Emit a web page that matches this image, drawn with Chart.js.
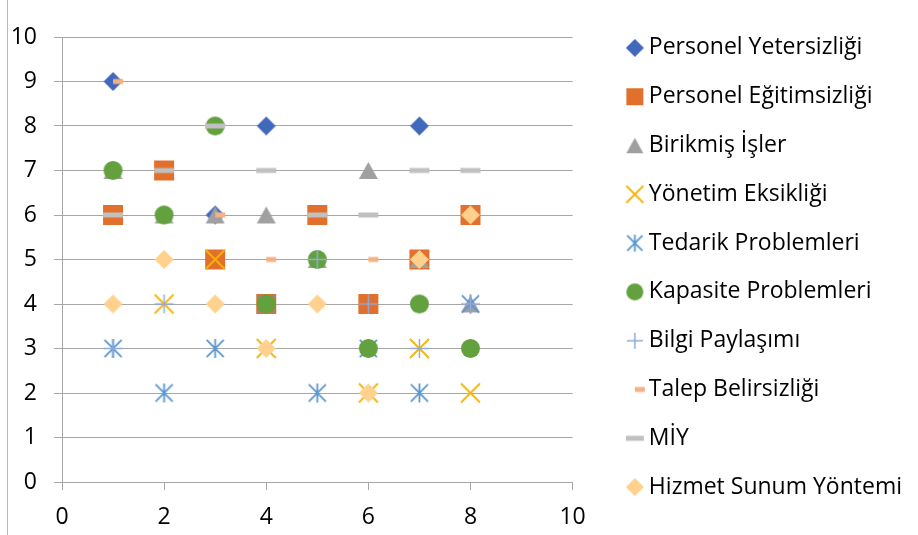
<!DOCTYPE html>
<html>
<head>
<meta charset="utf-8">
<script src="https://cdn.jsdelivr.net/npm/chart.js@4/dist/chart.umd.min.js"></script>
<style>
  html, body { margin: 0; padding: 0; background: #fff; }
  #wrap { position: relative; width: 918px; height: 535px; }
  #wrap canvas { position: absolute; left: 0; top: 0; }
  #edge { position: absolute; left: 7px; top: 0; width: 1px; height: 535px; background: #b8b8b8; }
</style>
</head>
<body>
<div id="wrap">
  <canvas id="graph" width="918" height="535"></canvas>
  <div id="edge"></div>
</div>
<script>
// series names, in legend order
const seriesNames = ['Personel Yetersizliği', 'Personel Eğitimsizliği', 'Birikmiş İşler', 'Yönetim Eksikliği',
  'Tedarik Problemleri', 'Kapasite Problemleri', 'Bilgi Paylaşımı', 'Talep Belirsizliği', 'MİY', 'Hizmet Sunum Yöntemi'];

// [x, y] pairs
const personelYetersizligi = [[1, 9], [3, 6], [4, 8], [7, 8]];
const personelEgitimsizligi = [[1, 6], [2, 7], [3, 5], [4, 4], [5, 6], [6, 4], [7, 5], [8, 6]];
const birikmisIsler = [[1, 7], [2, 6], [3, 6], [4, 6], [5, 5], [6, 7], [7, 5], [8, 4]];
const yonetimEksikligi = [[2, 4], [3, 5], [4, 3], [6, 2], [7, 3], [8, 2]];
const tedarikProblemleri = [[1, 3], [2, 2], [3, 3], [4, 4], [5, 2], [6, 3], [7, 2], [8, 4]];
const kapasiteProblemleri = [[1, 7], [2, 6], [3, 8], [4, 4], [5, 5], [6, 3], [7, 4], [8, 3]];
const bilgiPaylasimi = [[1, 3], [2, 4], [5, 5], [6, 4], [7, 3], [8, 4]];
const talepBelirsizligi = [[1, 9], [3, 6], [4, 5], [6, 5]];
const miy = [[1, 6], [2, 7], [3, 8], [4, 7], [5, 6], [6, 6], [7, 7], [8, 7]];
const hizmetSunumYontemi = [[1, 4], [2, 5], [3, 4], [4, 3], [5, 4], [6, 2], [7, 5], [8, 6]];

const seriesData = [personelYetersizligi, personelEgitimsizligi, birikmisIsler, yonetimEksikligi, tedarikProblemleri,
  kapasiteProblemleri, bilgiPaylasimi, talepBelirsizligi, miy, hizmetSunumYontemi];

const colors = ['#4169BB', '#E0702C', '#A0A0A0', '#F5B400', '#5B96D0', '#63A03E', '#8FAADC', '#F4B183', '#C0C0C0', '#FFD18C'];
const kinds = ['diamond', 'square', 'triangle', 'x', 'star', 'circle', 'plus', 'halfdash', 'line', 'diamond'];
const plotSizes = [19, 20, 19, 19, 19, 19, 19, 20, 20, 19];
const legendSizes = [18, 17, 17, 17, 17, 17, 16, 20, 18, 18];

// excel-like marker drawn on a small canvas
function mark(kind, size, color) {
  const c = document.createElement('canvas');
  c.width = size + 4;
  c.height = size + 4;
  const g = c.getContext('2d');
  const m = c.width / 2, h = size / 2;
  g.fillStyle = color;
  g.strokeStyle = color;
  g.beginPath();
  switch (kind) {
    case 'diamond':
      g.moveTo(m, m - h); g.lineTo(m + h, m); g.lineTo(m, m + h); g.lineTo(m - h, m);
      g.closePath(); g.fill();
      break;
    case 'square':
      g.fillRect(m - h, m - h, size, size);
      break;
    case 'triangle':
      g.moveTo(m, m - h * 0.9); g.lineTo(m + h, m + h * 0.9); g.lineTo(m - h, m + h * 0.9);
      g.closePath(); g.fill();
      break;
    case 'circle':
      g.arc(m, m, h, 0, Math.PI * 2); g.fill();
      break;
    case 'x':
      g.lineWidth = 1.8;
      g.moveTo(m - h, m - h); g.lineTo(m + h, m + h);
      g.moveTo(m + h, m - h); g.lineTo(m - h, m + h);
      g.stroke();
      break;
    case 'star':
      g.lineWidth = 1.8;
      g.moveTo(m - h * 0.9, m - h * 0.9); g.lineTo(m + h * 0.9, m + h * 0.9);
      g.moveTo(m + h * 0.9, m - h * 0.9); g.lineTo(m - h * 0.9, m + h * 0.9);
      g.moveTo(m, m - h); g.lineTo(m, m + h);
      g.stroke();
      break;
    case 'plus':
      g.lineWidth = 1.5;
      g.moveTo(m - h, m); g.lineTo(m + h, m);
      g.moveTo(m, m - h); g.lineTo(m, m + h);
      g.stroke();
      break;
    case 'line':
      g.fillRect(m - h, m - 2.5, size, 5);
      break;
    case 'halfdash':
      g.fillRect(m, m - 2.5, h, 5);
      break;
  }
  return c;
}

const legendMarks = kinds.map((k, i) => mark(k, legendSizes[i], colors[i]));

Chart.defaults.font.family = '"Open Sans", sans-serif';
Chart.defaults.font.size = 23;
Chart.defaults.color = '#000';

const gridColor = '#a6a6a6';

new Chart(document.getElementById('graph').getContext('2d'), {
  type: 'scatter',
  data: {
    datasets: seriesData.map((d, i) => ({
      label: seriesNames[i],
      data: d.map(p => ({ x: p[0], y: p[1] })),
      pointStyle: mark(kinds[i], plotSizes[i], colors[i]),
      pointRadius: 10,
      pointHoverRadius: 10,
      backgroundColor: colors[i],
      borderColor: colors[i],
      order: seriesNames.length - i
    }))
  },
  options: {
    responsive: false,
    animation: false,
    devicePixelRatio: 1,
    layout: { padding: { left: 0, top: 0, bottom: 0, right: 6 } },
    scales: {
      x: {
        type: 'linear', min: 0, max: 10,
        ticks: { stepSize: 2, padding: 14 },
        grid: { drawOnChartArea: false, tickLength: 8, color: gridColor },
        border: { color: gridColor },
        afterFit: s => { s.height = 53; }
      },
      y: {
        type: 'linear', min: 0, max: 10,
        ticks: { stepSize: 1, padding: 17 },
        grid: { tickLength: 8, color: gridColor },
        border: { color: gridColor },
        afterFit: s => { s.width = 62; }
      },
      topGap: {
        type: 'linear', position: 'top',
        ticks: { display: false }, grid: { display: false }, border: { display: false },
        afterFit: s => { s.height = 37; }
      },
      rightGap: {
        type: 'linear', position: 'right',
        ticks: { display: false }, grid: { display: false }, border: { display: false },
        afterFit: s => { s.width = 34; }
      }
    },
    plugins: {
      tooltip: { enabled: false },
      legend: {
        position: 'right',
        align: 'center',
        maxWidth: 306,
        labels: {
          usePointStyle: true,
          boxWidth: 5,
          boxHeight: 5,
          padding: 25.8,
          sort: (a, b) => a.datasetIndex - b.datasetIndex,
          generateLabels: chart => Chart.defaults.plugins.legend.labels.generateLabels(chart)
            .map(item => Object.assign(item, { pointStyle: legendMarks[item.datasetIndex] }))
        }
      }
    }
  }
});
</script>
</body>
</html>
